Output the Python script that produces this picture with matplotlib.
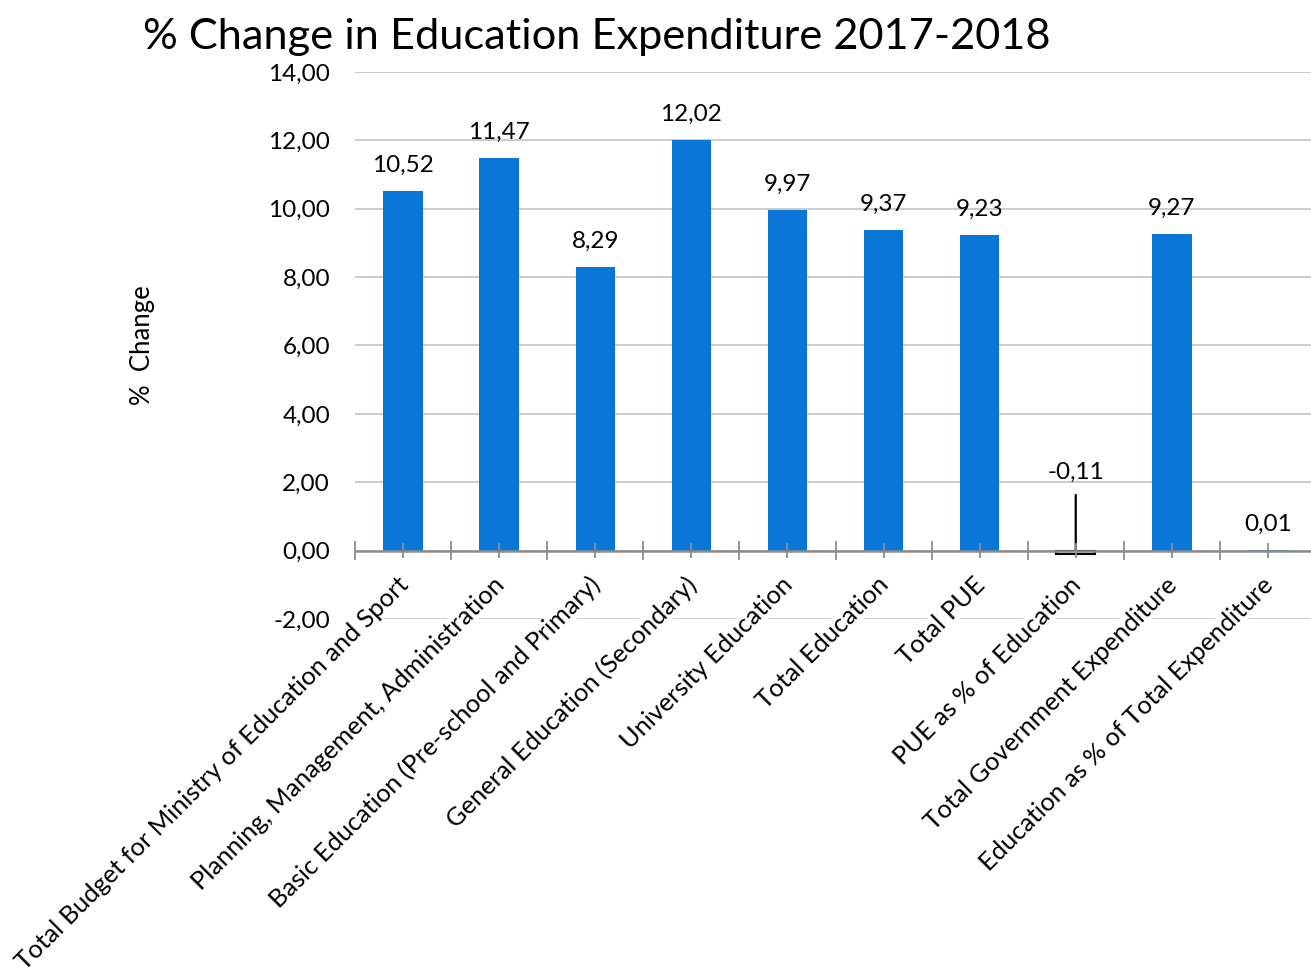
import matplotlib.pyplot as plt
from matplotlib.ticker import FixedLocator, FuncFormatter

# Percentage change per budget line, 2017 -> 2018
categories = [
    "Total Budget for Ministry of Education and Sport",
    "Planning, Management, Administration",
    "Basic Education (Pre-school and Primary)",
    "General Education (Secondary)",
    "University Education",
    "Total Education",
    "Total PUE",
    "PUE as % of Education",
    "Total Government Expenditure",
    "Education as % of Total Expenditure",
]
pct_change = [10.52, 11.47, 8.29, 12.02, 9.97, 9.37, 9.23, -0.11, 9.27, 0.01]
y_ticks = [-2, 0, 2, 4, 6, 8, 10, 12, 14]

BLUE = "#0A77D6"
plt.rcParams["font.family"] = ["Lato", "DejaVu Sans"]


def comma(v, pos=None):
    return f"{v:.2f}".replace(".", ",")


def main():
    fig = plt.figure(figsize=(13.11, 9.72), dpi=100)
    ax = fig.add_axes([355 / 1311, 1 - 619 / 972, 961 / 1311, (619 - 72) / 972])

    x = list(range(len(categories)))
    colors = [BLUE] * len(x)
    edges = [BLUE] * len(x)
    colors[7] = "white"
    edges[7] = "black"
    ax.bar(x, pct_change, width=0.41, color=colors, edgecolor=edges,
           linewidth=[0] * 7 + [1.5] + [0] * 2, zorder=3)

    ax.set_xlim(-0.5, 9.5)
    ax.set_ylim(-2, 14)
    ax.yaxis.set_major_locator(FixedLocator(y_ticks))
    ax.yaxis.set_major_formatter(FuncFormatter(comma))
    ax.grid(axis="y", color="#C8C8C8", linewidth=1.3, zorder=0)
    ax.tick_params(axis="y", length=0, labelsize=17.5, pad=18)

    for s in ["left", "right", "top", "bottom"]:
        ax.spines[s].set_visible(False)

    # zero axis with crossing ticks at the category edges and centres
    ax.axhline(0, color="#8C8C8C", linewidth=1.8, zorder=4)
    for b in range(len(categories) + 1):
        ax.plot([b - 0.5, b - 0.5], [-0.25, 0.25], color="#8C8C8C", lw=1.3,
                zorder=4, clip_on=False)
    for c in x:
        ax.plot([c, c], [-0.18, 0.18], color="#8C8C8C", lw=1.3, zorder=4)
    ax.set_xticks([])

    # category labels, rotated under the zero line
    for c, name in zip(x, categories):
        ax.text(c - 0.07, -0.65, name, rotation=45, rotation_mode="anchor",
                ha="right", va="top", fontsize=18.3, zorder=5,
                bbox=dict(facecolor="white", edgecolor="none", pad=0))

    # value labels
    for c, v in zip(x, pct_change):
        if c == 7:
            ax.annotate(comma(v), xy=(c, 0), xytext=(c, 2.3), ha="center",
                        va="center", fontsize=17.5,
                        arrowprops=dict(arrowstyle="-", color="black", lw=1.6,
                                        shrinkA=7, shrinkB=0))
        else:
            ax.annotate(comma(v), xy=(c, max(v, 0)), xytext=(0, 11),
                        textcoords="offset points", ha="center",
                        va="bottom", fontsize=17.5)

    ax.set_ylabel("%  Change", fontsize=18.5, labelpad=0)
    ax.yaxis.set_label_coords(-0.208, 0.5)

    fig.text(597 / 1311, 1 - 37 / 972,
             "% Change in Education Expenditure 2017-2018",
             ha="center", va="center", fontsize=31.2)

    fig.savefig("out.png", dpi=100)


if __name__ == "__main__":
    main()
